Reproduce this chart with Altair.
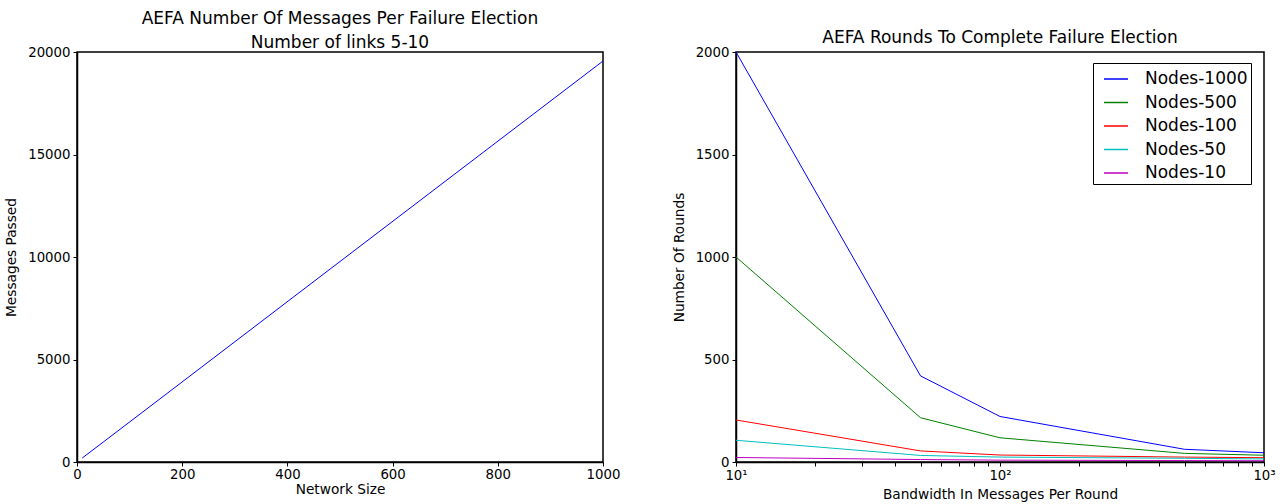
import altair as alt
import pandas as pd

# Left panel data
network_size = [10, 50, 100, 500, 1000]
messages_passed = [195, 975, 1950, 9780, 19560]

# Right panel data
bandwidth = [10, 50, 100, 500, 1000]
series_names = ["Nodes-1000", "Nodes-500", "Nodes-100", "Nodes-50", "Nodes-10"]
nodes_1000 = [2000, 420, 222, 62, 45]
nodes_500 = [1000, 216, 118, 42, 33]
nodes_100 = [205, 54, 34, 24, 21]
nodes_50 = [106, 32, 24, 18, 15]
nodes_10 = [22, 12, 9, 7, 6]
series_colors = ["#0000ff", "#008000", "#ff0000", "#00bfbf", "#bf00bf"]

font = "DejaVu Sans"

left_df = pd.DataFrame({"size": network_size, "msgs": messages_passed})
rows = []
for name, vals in zip(series_names, [nodes_1000, nodes_500, nodes_100, nodes_50, nodes_10]):
    for b, v in zip(bandwidth, vals):
        rows.append({"bw": b, "rounds": v, "series": name})
right_df = pd.DataFrame(rows)

axis_common = dict(grid=False, domainColor="black", domainWidth=1.5, tickColor="black",
                   labelColor="black", titleColor="black", labelFont=font, titleFont=font,
                   labelFontSize=13.3, titleFontSize=13.7, titleFontWeight="normal", tickSize=4)

left = alt.Chart(left_df).mark_line(color="#0000ff", strokeWidth=1).encode(
    x=alt.X("size:Q", scale=alt.Scale(domain=[0, 1000], nice=False),
            axis=alt.Axis(title="Network Size", values=[0, 200, 400, 600, 800, 1000],
                          format="d", titlePadding=2, labelPadding=1, labelFlush=False,
                          **axis_common)),
    y=alt.Y("msgs:Q", scale=alt.Scale(domain=[0, 20000], nice=False),
            axis=alt.Axis(title="Messages Passed", values=[0, 5000, 10000, 15000, 20000],
                          format="d", titlePadding=9, labelPadding=3, labelFlush=False,
                          **axis_common)),
).properties(
    width=526, height=410,
    title=alt.TitleParams(["AEFA Number Of Messages Per Failure Election", "Number of links 5-10"],
                          font=font, fontSize=17, fontWeight="normal", color="black",
                          anchor="middle", offset=-7, lineHeight=24),
)

minor = [10, 20, 30, 40, 50, 60, 70, 80, 90, 100, 200, 300, 400, 500, 600, 700, 800, 900, 1000]

right = alt.Chart(right_df).mark_line(strokeWidth=1).encode(
    x=alt.X("bw:Q", scale=alt.Scale(type="log", domain=[10, 1000], nice=False),
            axis=alt.Axis(title="Bandwidth In Messages Per Round", values=minor,
                          labelExpr="datum.value == 10 ? '10¹' : datum.value == 100 ? '10²' : datum.value == 1000 ? '10³' : ''",
                          titlePadding=6, labelPadding=2, labelFlush=False, labelOverlap=False,
                          **axis_common)),
    y=alt.Y("rounds:Q", scale=alt.Scale(domain=[0, 2000], nice=False),
            axis=alt.Axis(title="Number Of Rounds", values=[0, 500, 1000, 1500, 2000],
                          format="d", titlePadding=9, labelPadding=3, labelFlush=False,
                          **axis_common)),
    color=alt.Color("series:N", sort=series_names,
                    scale=alt.Scale(domain=series_names, range=series_colors),
                    legend=alt.Legend(title=None, orient="none", legendX=1016, legendY=11,
                                      labelFont=font, labelFontSize=17, labelColor="black",
                                      symbolType="stroke", symbolSize=576, symbolStrokeWidth=1.5,
                                      symbolOffset=7,
                                      strokeColor="black", fillColor="white", padding=3,
                                      rowPadding=2.5, labelOffset=16)),
).properties(
    width=528, height=410,
    title=alt.TitleParams("AEFA Rounds To Complete Failure Election", font=font, fontSize=17,
                          fontWeight="normal", color="black", anchor="middle", offset=-2),
)

chart = alt.hconcat(left, right, spacing=50).properties(
    padding={"left": 3, "top": 9, "right": 5, "bottom": 2}, background="white"
).configure_view(stroke="black", strokeWidth=1.5)

chart.save("out.html", embed_options={"renderer": "svg", "actions": False})
